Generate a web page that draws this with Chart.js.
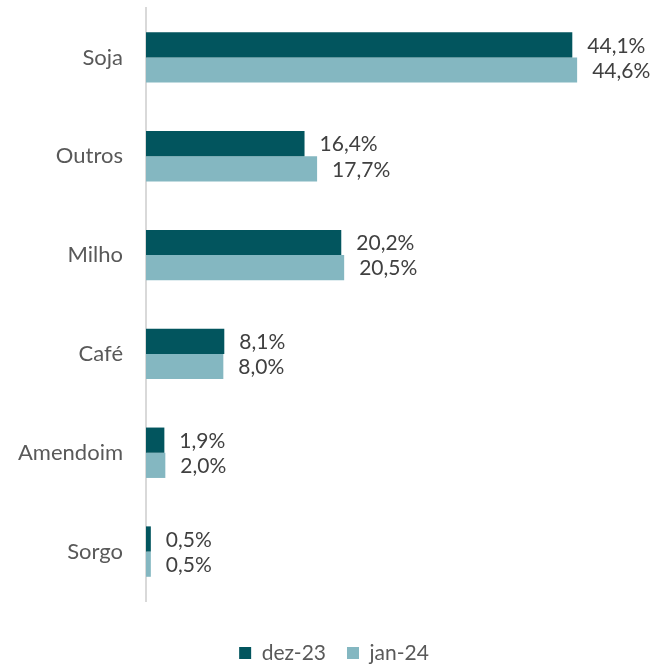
<!DOCTYPE html>
<html>
<head>
<meta charset="utf-8">
<script src="https://cdn.jsdelivr.net/npm/chart.js@4"></script>
<style>
  html, body { margin: 0; padding: 0; background: #fff; }
  #wrap { width: 668px; height: 668px; }
</style>
</head>
<body>
<div id="wrap"><canvas id="culturas"></canvas></div>
<script>
// participação por cultura (%)
var culturas = ['Soja', 'Outros', 'Milho', 'Café', 'Amendoim', 'Sorgo'];
var dez23 = [44.1, 16.4, 20.2, 8.1, 1.9, 0.5];
var jan24 = [44.6, 17.7, 20.5, 8.0, 2.0, 0.5];
var series = ['dez-23', 'jan-24'];

var FONT = 'Lato, "Open Sans", sans-serif';

function pct(v) {
  return v.toFixed(1).replace('.', ',') + '%';
}

// escreve o valor logo depois da ponta de cada barra
var rotulos = {
  id: 'rotulos',
  afterDatasetsDraw: function (chart) {
    var ctx = chart.ctx;
    ctx.save();
    ctx.font = '21px ' + FONT;
    ctx.fillStyle = '#404040';
    ctx.textAlign = 'left';
    ctx.textBaseline = 'middle';
    chart.data.datasets.forEach(function (ds, i) {
      chart.getDatasetMeta(i).data.forEach(function (bar, j) {
        ctx.fillText(pct(ds.data[j]), bar.x + 15, bar.y + 1);
      });
    });
    ctx.restore();
  }
};

new Chart(document.getElementById('culturas'), {
  type: 'bar',
  data: {
    labels: culturas,
    datasets: [
      { label: series[0], data: dez23, backgroundColor: '#02555E' },
      { label: series[1], data: jan24, backgroundColor: '#84B7C1' }
    ]
  },
  options: {
    indexAxis: 'y',
    responsive: true,
    maintainAspectRatio: false,
    animation: false,
    datasets: { bar: { categoryPercentage: 0.51, barPercentage: 1 } },
    layout: { padding: { top: 8, right: 0, bottom: -5.5, left: 0 } },
    scales: {
      x: { display: false, min: 0, max: 54 },
      y: {
        afterFit: function (s) {
          s.width = 146;
          s.paddingTop = 0;
          s.paddingBottom = 0;
        },
        grid: { display: false, drawTicks: false },
        border: { color: '#D9D9D9', width: 2 },
        ticks: { color: '#595959', padding: 23, font: { family: FONT, size: 22 } }
      }
    },
    plugins: {
      tooltip: { enabled: false },
      legend: {
        position: 'bottom',
        title: { display: true, text: '', padding: 4.25, font: { size: 10 } },
        labels: {
          boxWidth: 12, boxHeight: 12, padding: 21,
          color: '#595959',
          font: { family: FONT, size: 21 }
        }
      }
    }
  },
  plugins: [rotulos]
});
</script>
</body>
</html>
